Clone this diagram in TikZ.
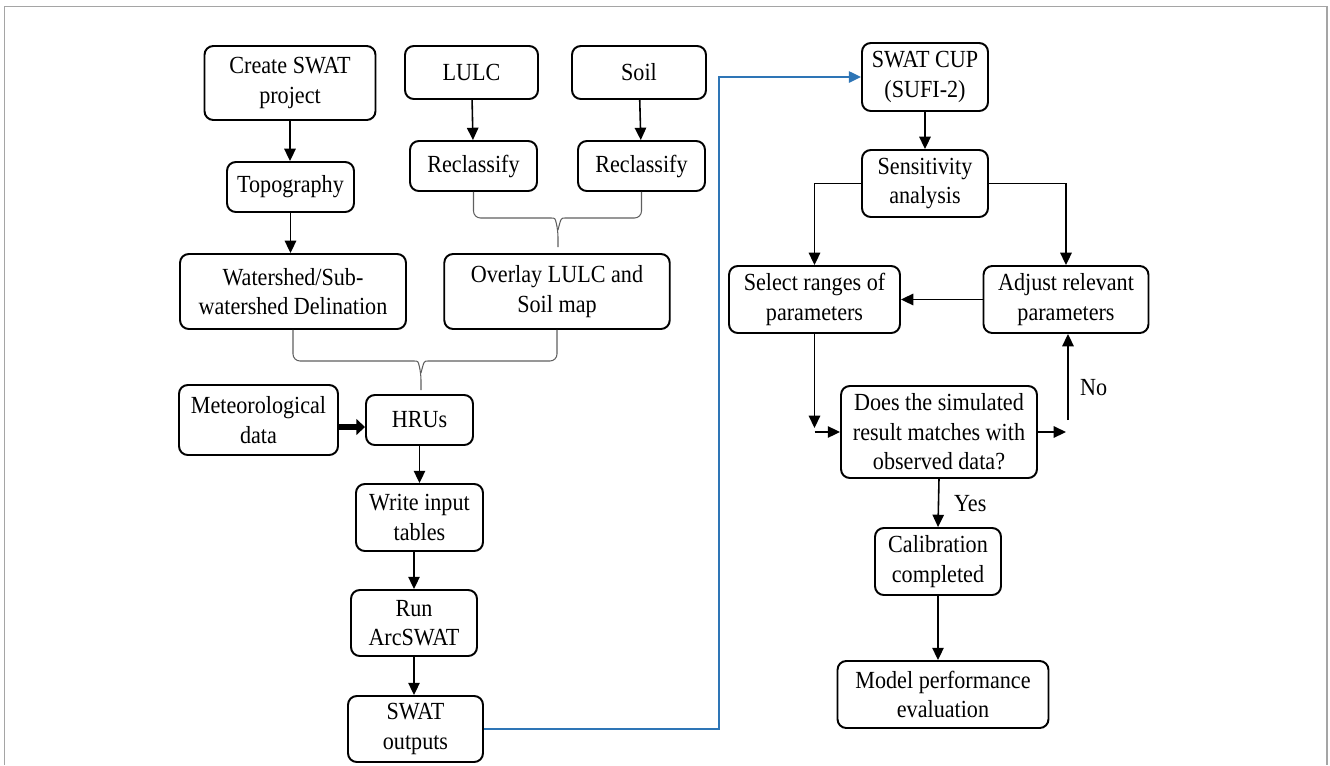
\documentclass[tikz,border=0pt]{standalone}
\usepackage{fontspec}
\setmainfont{Liberation Serif}[FakeStretch=0.9]
\usetikzlibrary{arrows.meta,calc}
\definecolor{framegray}{RGB}{165,165,165}
\definecolor{linkblue}{RGB}{46,117,182}
\definecolor{bracegray}{RGB}{95,95,95}

\begin{document}
\begin{tikzpicture}[x=0.02cm, y=-0.02cm,
    box/.style={draw, line width=1.1pt, rounded corners=5pt, align=center, font=\fontsize{14}{16.8}\selectfont},
    arr/.style={line width=0.9pt, -{Triangle[length=7pt,width=6.5pt]}},
    bracket/.style={draw=bracegray, line width=0.6pt, rounded corners=4pt},
    lbl/.style={font=\fontsize{14}{16.8}\selectfont}]
    \useasboundingbox (0,0) rectangle (1330,765);
    \draw[framegray, line width=0.8pt] (4.5,765) -- (4.5,6.5) -- (1327,6.5) -- (1327,765);

    \node[box, minimum width=3.42cm, minimum height=1.48cm] (proj) at (290,83) {Create SWAT\\project};
    \node[box, minimum width=2.66cm, minimum height=1.06cm] (lulc) at (471.5,72.5) {LULC};
    \node[box, minimum width=2.68cm, minimum height=1.06cm] (soil) at (639,72.5) {Soil};
    \node[box, minimum width=2.54cm, minimum height=1cm] (rclulc) at (473.5,166) {Reclassify};
    \node[box, minimum width=2.54cm, minimum height=1cm] (rcsoil) at (641.5,166) {Reclassify};
    \node[box, minimum width=2.54cm, minimum height=1cm] (topo) at (290.5,187) {Topography};
    \node[box, minimum width=4.52cm, minimum height=1.5cm] (wshed) at (293,291.5) {Watershed/Sub-\\watershed Delination};
    \node[box, minimum width=4.51cm, minimum height=1.5cm] (overlay) at (557,291.5) {Overlay LULC and\\Soil map};
    \node[box, minimum width=3.18cm, minimum height=1.4cm] (met) at (258.5,420) {Meteorological\\data};
    \node[box, minimum width=2.14cm, minimum height=1cm] (hru) at (419.5,420) {HRUs};
    \node[box, minimum width=2.54cm, minimum height=1.34cm] (wit) at (419.5,517.5) {Write input\\tables};
    \node[box, minimum width=2.52cm, minimum height=1.32cm] (run) at (414,623) {Run\\ArcSWAT};
    \node[box, minimum width=2.7cm, minimum height=1.32cm] (out) at (415.5,729) {SWAT\\outputs};

    \node[box, minimum width=2.52cm, minimum height=1.36cm] (cup) at (925,77) {SWAT CUP\\(SUFI-2)};
    \node[box, minimum width=2.52cm, minimum height=1.34cm] (sens) at (925,183.5) {Sensitivity\\analysis};
    \node[box, minimum width=3.42cm, minimum height=1.34cm] (select) at (814.5,299.5) {Select ranges of\\parameters};
    \node[box, minimum width=3.3cm, minimum height=1.34cm] (adjust) at (1066,299.5) {Adjust relevant\\parameters};
    \node[box, minimum width=3.92cm, minimum height=1.84cm] (does) at (939,432) {Does the simulated\\result matches with\\observed data?};
    \node[box, minimum width=2.52cm, minimum height=1.34cm] (calib) at (938,561.5) {Calibration\\completed};
    \node[box, minimum width=4.22cm, minimum height=1.34cm] (model) at (943,694.5) {Model performance\\evaluation};

    \draw[arr] (proj.south) -- (proj.south |- topo.north); \draw[arr] (topo.south) -- (topo.south |- wshed.north);
    \draw[arr] (lulc) -- (rclulc); \draw[arr] (soil) -- (rcsoil);

    \coordinate (tip1) at (558,230);
    \draw[bracket] (rclulc.south) |- ($(tip1)+(-14,-12)$) .. controls ($(tip1)+(-3,-12)$) .. (tip1) -- ($(tip1)+(0,17)$);
    \draw[bracket] (rcsoil.south) |- ($(tip1)+(14,-12)$) .. controls ($(tip1)+(3,-12)$) .. (tip1);
    \coordinate (tip2) at (421,373);
    \draw[bracket] (wshed.south) |- ($(tip2)+(-14,-12)$) .. controls ($(tip2)+(-3,-12)$) .. (tip2) -- ($(tip2)+(0,17)$);
    \draw[bracket] (overlay.south) |- ($(tip2)+(14,-12)$) .. controls ($(tip2)+(3,-12)$) .. (tip2);

    \draw[line width=3pt, -{Triangle[length=5pt,width=9pt]}] ([yshift=-0.14cm]met.east) -- ([yshift=-0.14cm]hru.west);
    \draw[arr] (hru.south) -- (hru.south |- wit.north);
    \draw[arr] (run.north |- wit.south) -- (run.north);
    \draw[arr] (run.south) -- (run.south |- out.north);

    \coordinate (bend) at (719,729);
    \draw[linkblue, line width=1.1pt, -{Triangle[length=7pt,width=6.5pt]}] (out.east) -- (bend) |- (cup.west);

    \draw[arr] (cup) -- (sens);
    \draw[arr] (sens.west) -| (select.north);
    \draw[arr] (sens.east) -| (adjust.north);
    \draw[arr] (adjust.west) -- (select.east);
    \coordinate (sd) at (select.south |- does.west);
    \draw[arr] (select.south) -- ($(sd)+(0,-4)$);
    \draw[arr] (sd) -- (does.west);
    \draw[arr] (does.east) -- (does.east -| adjust.south);
    \draw[arr] ($(does.east -| adjust.south)+(2,-12)$) -- (adjust.south -| 1068,0);
    \node[lbl, anchor=west] (no) at (1074,388) {No};
    \draw[arr] (does.south) -- (calib.north);
    \node[lbl, anchor=west] (yes) at (948,504) {Yes};
    \draw[arr] (calib.south) -- (calib.south |- model.north);
\end{tikzpicture}
\end{document}
